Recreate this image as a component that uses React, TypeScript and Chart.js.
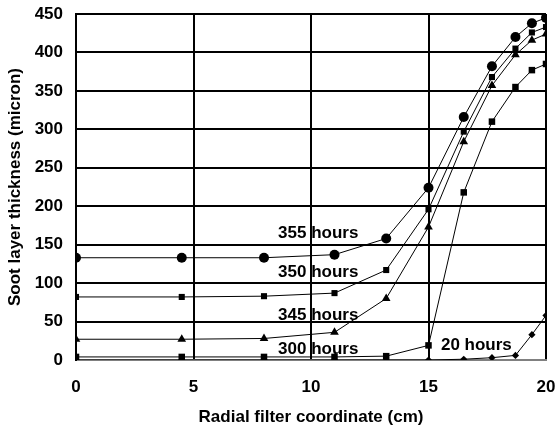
import React, { useEffect, useRef } from "react";
import { Chart, registerables } from "chart.js";

Chart.register(...registerables);

const radialCm = [0, 4.5, 8, 11, 13.2, 15, 16.5, 17.7, 18.7, 19.4, 20];
const hours355 = [133, 133, 133, 137, 158, 224, 316, 382, 420, 438, 445];
const hours350 = [82, 82, 83, 87, 117, 196, 297, 368, 405, 426, 433];
const hours345 = [27, 27, 28, 36, 80, 173, 284, 357, 397, 416, 424];
const hours300 = [4, 4, 4, 4, 5, 19, 218, 310, 355, 377, 385];
const hours20 = [0, 0, 0, 0, 0, 0, 1, 3, 6, 33, 58];

const xTicks = [0, 5, 10, 15, 20];
const yTicks = [0, 50, 100, 150, 200, 250, 300, 350, 400, 450];

const seriesLabels = ["355 hours", "350 hours", "345 hours", "300 hours", "20 hours"];
const labelX = [8.6, 8.6, 8.6, 8.6, 15.53];
const labelY = [165, 114, 58.5, 14, 19.5];

const FONT = "'Liberation Sans', Arial, sans-serif";

const toPoints = (ys: number[]) => radialCm.map((x, i) => ({ x, y: ys[i] }));

const labelPlugin = {
  id: "seriesLabels",
  afterDatasetsDraw(chart: any) {
    const { ctx, scales } = chart;
    ctx.save();
    ctx.fillStyle = "#000";
    ctx.font = `bold 17px ${FONT}`;
    ctx.textAlign = "left";
    ctx.textBaseline = "middle";
    seriesLabels.forEach((t, i) => {
      ctx.fillText(t, scales.x.getPixelForValue(labelX[i]), scales.y.getPixelForValue(labelY[i]));
    });
    ctx.restore();
  },
};

export default function App() {
  const ref = useRef<HTMLCanvasElement>(null);
  useEffect(() => {
    if (!ref.current) return;
    const common = {
      borderColor: "#000",
      backgroundColor: "#000",
      pointBorderColor: "#000",
      pointBackgroundColor: "#000",
      borderWidth: 1,
      pointBorderWidth: 0,
      showLine: true,
      fill: false,
      tension: 0,
    };
    const chart = new Chart(ref.current, {
      type: "scatter",
      data: {
        datasets: [
          { ...common, label: seriesLabels[0], data: toPoints(hours355), pointStyle: "circle", pointRadius: 5 },
          { ...common, label: seriesLabels[1], data: toPoints(hours350), pointStyle: "rect", pointRadius: 4.3 },
          { ...common, label: seriesLabels[2], data: toPoints(hours345), pointStyle: "triangle", pointRadius: 5 },
          { ...common, label: seriesLabels[3], data: toPoints(hours300), pointStyle: "rect", pointRadius: 4.6 },
          { ...common, label: seriesLabels[4], data: toPoints(hours20), pointStyle: "rectRot", pointRadius: 3.6 },
        ],
      },
      options: {
        animation: false,
        responsive: false,
        layout: { padding: { top: 14, right: 9, left: 0, bottom: 0 } },
        plugins: { legend: { display: false }, tooltip: { enabled: false } },
        scales: {
          x: {
            type: "linear",
            min: 0,
            max: 20,
            afterBuildTicks: (s: any) => {
              s.ticks = xTicks.map((v) => ({ value: v }));
            },
            afterFit: (s: any) => {
              s.height = 70;
              s.paddingLeft = 0;
              s.paddingRight = 0;
            },
            grid: { color: "#000", lineWidth: 2, drawTicks: false },
            border: { color: "#808080", width: 2 },
            ticks: { color: "#000", padding: 17, font: { family: FONT, size: 17, weight: "bold" } },
            title: {
              display: true,
              text: "Radial filter coordinate (cm)",
              color: "#000",
              padding: { top: 0, bottom: 2 },
              font: { family: FONT, size: 17, weight: "bold" },
            },
          },
          y: {
            type: "linear",
            min: 0,
            max: 450,
            afterBuildTicks: (s: any) => {
              s.ticks = yTicks.map((v) => ({ value: v }));
            },
            afterFit: (s: any) => {
              s.width = 76;
              s.paddingTop = 0;
              s.paddingBottom = 0;
            },
            grid: {
              color: (c: any) => (c.tick && c.tick.value === 0 ? "#808080" : "#000"),
              lineWidth: 2,
              drawTicks: false,
            },
            border: { color: "#000", width: 2 },
            ticks: { color: "#000", padding: 13, font: { family: FONT, size: 17, weight: "bold" } },
            title: {
              display: true,
              text: "Soot layer thickness (micron)",
              color: "#000",
              padding: { top: 5, bottom: 0 },
              font: { family: FONT, size: 17, weight: "bold" },
            },
          },
        },
      },
      plugins: [labelPlugin],
    } as any);
    return () => chart.destroy();
  }, []);
  return (
    <div style={{ position: "fixed", left: 0, top: 0, width: 555, height: 430, background: "#fff" }}>
      <canvas ref={ref} width={555} height={430} style={{ display: "block" }} />
    </div>
  );
}
